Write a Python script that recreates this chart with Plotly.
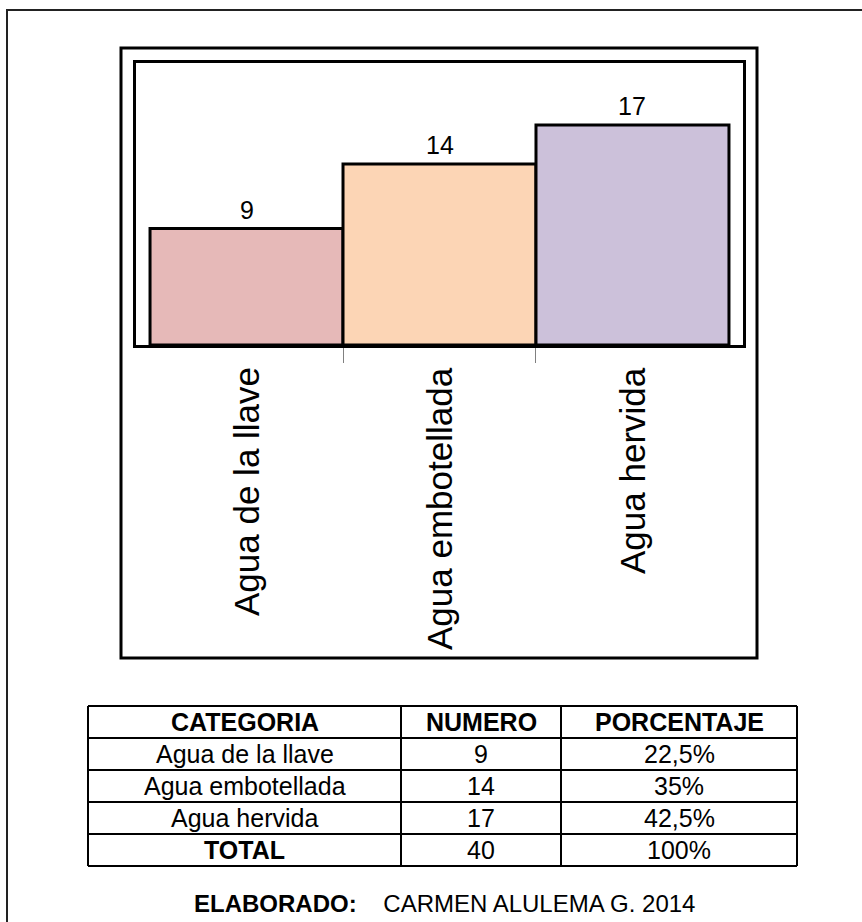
import plotly.graph_objects as go

# ---- data ----
categories = ["Agua de la llave", "Agua embotellada", "Agua hervida"]
counts = [9, 14, 17]
bar_colors = ["#E6B9B8", "#FCD5B5", "#CCC1DA"]
table_headers = ["CATEGORIA", "NUMERO", "PORCENTAJE"]
total_label = "TOTAL"
credit_bold = "ELABORADO:"
credit_text = "CARMEN ALULEMA G. 2014"

FONT = "Liberation Sans, Arial, sans-serif"
W, H = 862, 922
# plot area in pixels (left, top, right, bottom)
PL, PT, PR, PB = 136, 63, 743, 345


def px(x):
    return (x - PL) / (PR - PL)


def py(y):
    return (PB - y) / (PB - PT)


def pct(n, total):
    s = f"{100 * n / total:.1f}".rstrip("0").rstrip(".")
    return s.replace(".", ",") + "%"


total = sum(counts)
xs = list(range(len(categories)))

fig = go.Figure(
    go.Bar(
        x=xs,
        y=counts,
        width=1,
        marker=dict(color=bar_colors, line=dict(color="black", width=3)),
        hoverinfo="skip",
    )
)

shapes = []
annotations = []

# page border (continues past the right and bottom edges)
shapes.append(dict(type="rect", xref="paper", yref="paper",
                   x0=px(7), x1=px(960), y0=py(1000), y1=py(10),
                   line=dict(color="#222", width=2)))
# chart frame
shapes.append(dict(type="rect", xref="paper", yref="paper",
                   x0=px(121), x1=px(757), y0=py(658), y1=py(48),
                   line=dict(color="black", width=3)))

# value labels above bars
for i, v in zip(xs, counts):
    annotations.append(dict(x=i, y=v, xref="x", yref="y", text=str(v),
                            showarrow=False, yanchor="bottom", yshift=3,
                            font=dict(family=FONT, size=25, color="black")))

# rotated category labels under the axis
for i, c in zip(xs, categories):
    annotations.append(dict(x=i, y=0, xref="x", yref="paper", text=c,
                            showarrow=False, textangle=-90,
                            xanchor="center", yanchor="top", yshift=-20,
                            font=dict(family=FONT, size=35, color="black")))

# summary table
col_x = [88, 401, 561, 797]
row_y = [706 + 32 * k for k in range(6)]
for x in col_x:
    shapes.append(dict(type="line", xref="paper", yref="paper",
                       x0=px(x), x1=px(x), y0=py(row_y[0]), y1=py(row_y[-1]),
                       line=dict(color="black", width=2)))
for y in row_y:
    shapes.append(dict(type="line", xref="paper", yref="paper",
                       x0=px(col_x[0]), x1=px(col_x[-1]), y0=py(y), y1=py(y),
                       line=dict(color="black", width=2)))

rows = [table_headers]
for c, n in zip(categories, counts):
    rows.append([c, str(n), pct(n, total)])
rows.append([total_label, str(total), pct(total, total)])

for r, row in enumerate(rows):
    yc = (row_y[r] + row_y[r + 1]) / 2
    for k, cell in enumerate(row):
        xc = (col_x[k] + col_x[k + 1]) / 2
        bold = r == 0 or (r == len(rows) - 1 and k == 0)
        txt = f"<b>{cell}</b>" if bold else cell
        annotations.append(dict(x=px(xc), y=py(yc), xref="paper", yref="paper",
                                text=txt, showarrow=False,
                                xanchor="center", yanchor="middle",
                                font=dict(family=FONT, size=25, color="black")))

# credit line
annotations.append(dict(x=px(192), y=py(903), xref="paper", yref="paper",
                        text=f"<b>{credit_bold}</b>    {credit_text}",
                        showarrow=False, xanchor="left", yanchor="middle",
                        font=dict(family=FONT, size=24, color="black")))

fig.update_layout(
    width=W, height=H,
    margin=dict(l=PL, r=W - PR, t=PT, b=H - PB, pad=0),
    paper_bgcolor="white", plot_bgcolor="white",
    showlegend=False,
    shapes=shapes,
    annotations=annotations,
    xaxis=dict(range=[-0.5727, 2.5727], tickvals=[0.5, 1.5],
               showticklabels=False, ticks="outside", ticklen=15,
               tickwidth=1, tickcolor="#808080",
               showline=True, linecolor="black", linewidth=3, mirror=True,
               showgrid=False, zeroline=False, fixedrange=True),
    yaxis=dict(range=[0, 21.8], showticklabels=False, ticks="",
               showline=True, linecolor="black", linewidth=3, mirror=True,
               showgrid=False, zeroline=False, fixedrange=True),
)

fig.write_html("out.html", config={"displayModeBar": False})
